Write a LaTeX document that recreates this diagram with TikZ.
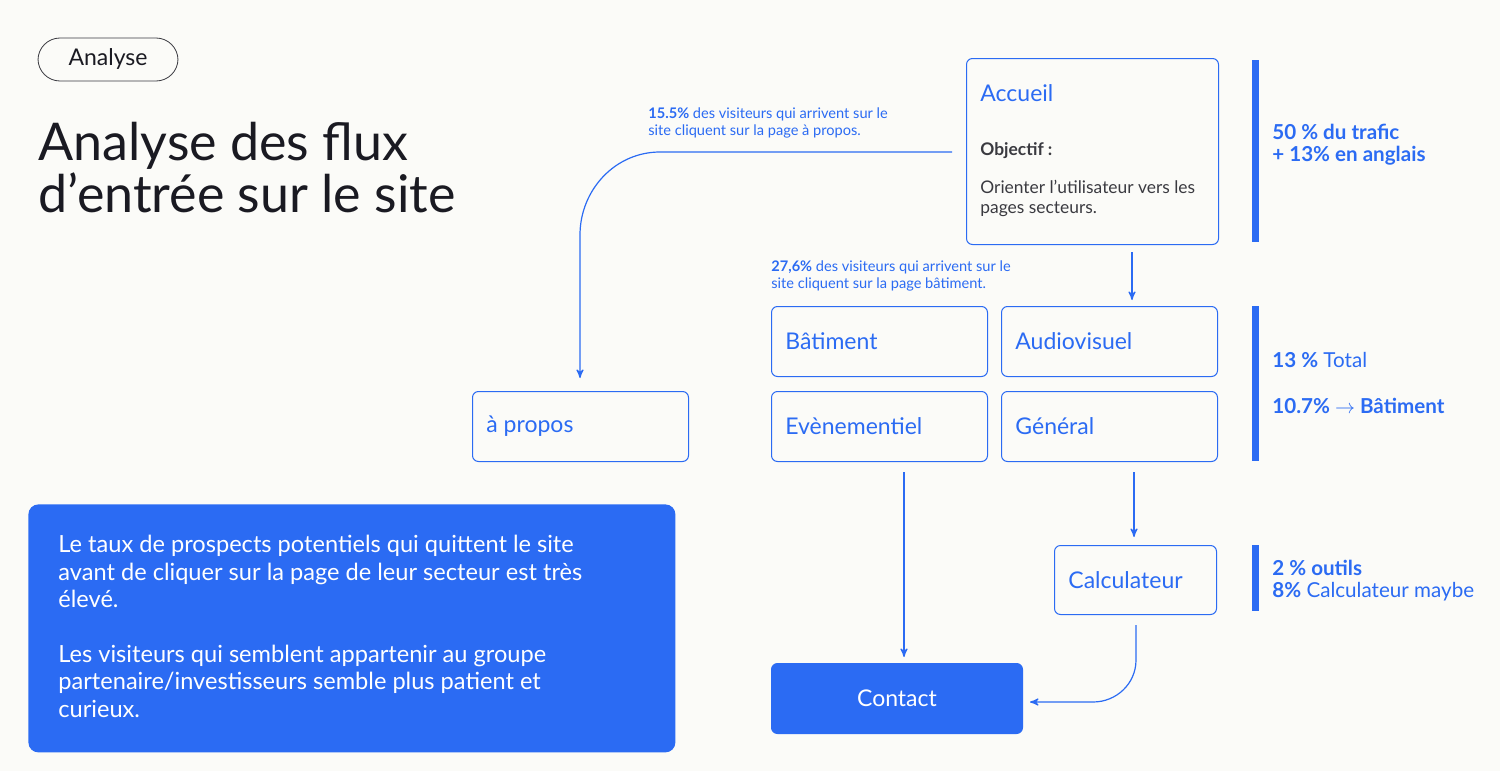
\documentclass[tikz,border=0pt]{standalone}
\usepackage{fontspec}
\setmainfont{Lato}
\usetikzlibrary{positioning,arrows}
\definecolor{flowblue}{HTML}{2B6BF3}
\definecolor{bgpaper}{HTML}{FBFBF8}
\definecolor{darktext}{HTML}{1A1A22}
\definecolor{greytext}{HTML}{3A3A40}
\tikzset{
  page/.style={draw=flowblue, line width=0.5pt, rounded corners=3pt, inner sep=0pt, anchor=north west},
  pagelabel/.style={text=flowblue, font=\fontsize{11.5}{13}\selectfont, anchor=west, inner sep=0pt},
  note/.style={text=flowblue, font=\fontsize{7.3}{8.7}\selectfont, align=left, anchor=north west, inner sep=0pt},
  stat/.style={text=flowblue, font=\fontsize{10.3}{12}\selectfont, anchor=west, inner sep=0pt},
  bar/.style={fill=flowblue, draw=none},
  flow/.style={draw=flowblue, line width=0.6pt, -stealth'}
}
\begin{document}
\begin{tikzpicture}[x=0.5pt,y=-0.5pt]
\useasboundingbox[fill=bgpaper] (0,0) rectangle (1500,771);

% Header
\node[draw=greytext, line width=0.4pt, rounded corners=11pt, minimum width=70pt, minimum height=21.5pt,
      font=\fontsize{11.5}{13}\selectfont, text=darktext] (tag) at (108,59.5) {Analyse};
\node[anchor=north west, inner sep=0pt, align=left, text=darktext,
      font=\fontsize{26}{26}\selectfont] (title) at (38,122) {Analyse des flux\\d’entrée sur le site};

% Pages
\node[page, minimum width=126pt, minimum height=93pt] (accueil) at (966,58) {};
\node[pagelabel] at (980,93) {Accueil};
\node[anchor=west, text=greytext, font=\bfseries\fontsize{8.7}{10}\selectfont, inner sep=0pt] at (980,151) {Objectif :};
\node[anchor=north west, text=greytext, font=\fontsize{8.7}{10}\selectfont, align=left, inner sep=0pt]
   at (980,180) {Orienter l’utilisateur vers les\\pages secteurs.};

\node[page, minimum width=108pt, minimum height=35pt] (batiment) at (771,306) {};
\node[pagelabel] at (785,341) {Bâtiment};
\node[page, minimum width=108pt, minimum height=35pt] (audio) at (1001,306) {};
\node[pagelabel] at (1015,341) {Audiovisuel};
\node[page, minimum width=108pt, minimum height=35pt] (event) at (771,391) {};
\node[pagelabel] at (785,426) {Evènementiel};
\node[page, minimum width=108pt, minimum height=35pt] (general) at (1001,391) {};
\node[pagelabel] at (1015,426) {Général};
\node[page, minimum width=108pt, minimum height=35pt] (apropos) at (472,391) {};
\node[pagelabel] at (486,426) {à propos};
\node[page, minimum width=81pt, minimum height=34.5pt] (calc) at (1054,545) {};
\node[pagelabel] at (1068,580) {Calculateur};
\node[page, fill=flowblue, minimum width=125.5pt, minimum height=35pt] (contact) at (771,663) {};
\node[text=white, font=\fontsize{11.5}{13}\selectfont] at (contact.center) {Contact};

% Notes
\node[note] (note1) at (648,107) {\textbf{15.5\%} des visiteurs qui arrivent sur le\\site cliquent sur la page à propos.};
\node[note] (note2) at (771,260) {\textbf{27,6\%} des visiteurs qui arrivent sur le\\site cliquent sur la page bâtiment.};

% Flows
\coordinate (a1) at (952,152);
\coordinate (a2) at (580,378);
\draw[flow] (a1) -- (660,152) to[out=180,in=90] (580,235) -- (a2);
\draw[flow] (1132,252) -- (1132,300);
\draw[flow] (904,472) -- (904,657);
\draw[flow] (1134,472) -- (1134,537);
\draw[flow] (1136,625) -- (1136,660) to[out=270,in=0] (1093,702) -- (1030,702);

% Stats
\fill[bar] (1252,60) rectangle (1259,242);
\node[stat, font=\bfseries\fontsize{10.3}{12}\selectfont] at (1272,132) {50 \% du trafic};
\node[stat, font=\bfseries\fontsize{10.3}{12}\selectfont] at (1272,156) {+ 13\% en anglais};
\fill[bar] (1252,306) rectangle (1259,461);
\node[stat] at (1272,360) {\textbf{13 \%} Total};
\node[stat, font=\bfseries\fontsize{10.3}{12}\selectfont] at (1272,406) {10.7\% $\rightarrow$ Bâtiment};
\fill[bar] (1252,545) rectangle (1259,611);
\node[stat] at (1272,568) {\textbf{2 \% outils}};
\node[stat] at (1272,592) {\textbf{8\%} Calculateur maybe};

% Summary
\node[fill=flowblue, rounded corners=5pt, anchor=north west, minimum width=323.5pt, minimum height=124pt] (summary) at (28,504) {};
\node[anchor=north west, inner sep=0pt, text=white, align=left, font=\fontsize{11.8}{13.7}\selectfont] at (58,535)
  {Le taux de prospects potentiels qui quittent le site\\avant de cliquer sur la page de leur secteur est très\\élevé.\\[13.7pt]
   Les visiteurs qui semblent appartenir au groupe\\partenaire/investisseurs semble plus patient et\\curieux.};
\end{tikzpicture}
\end{document}
